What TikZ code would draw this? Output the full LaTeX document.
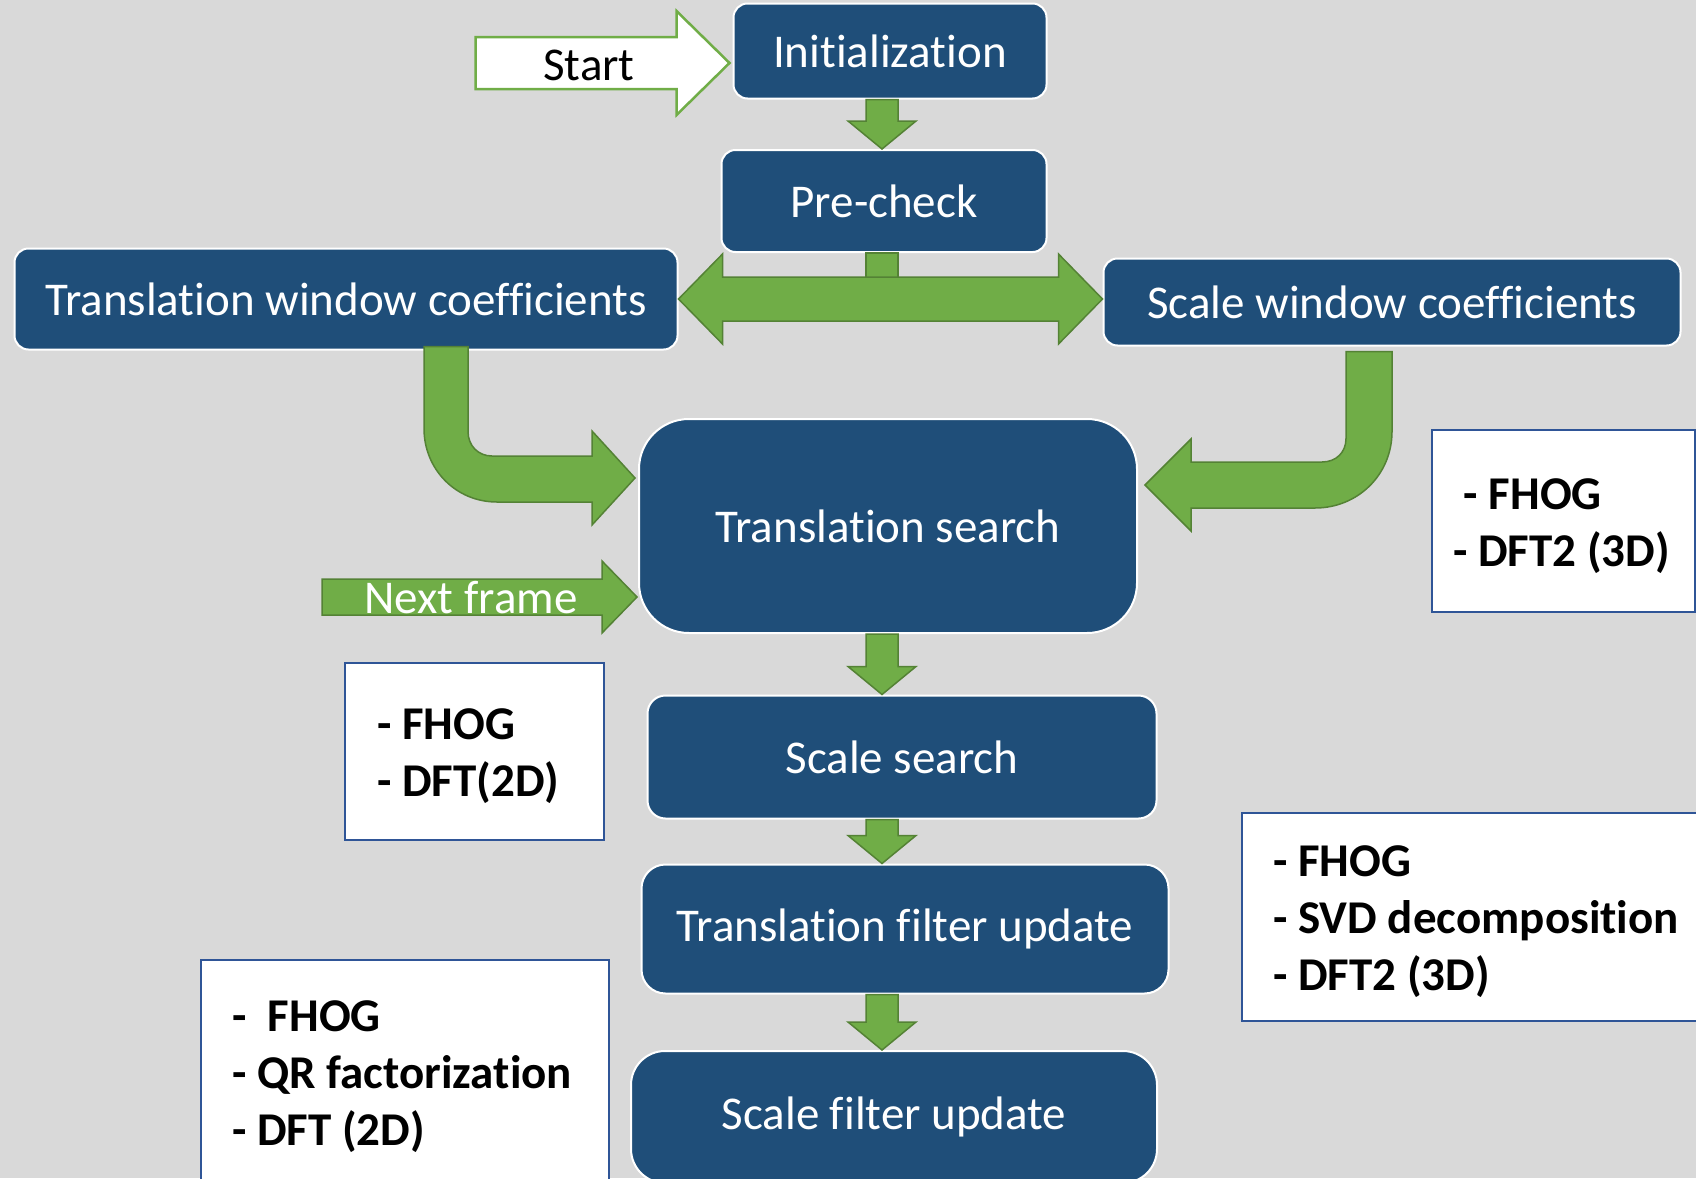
\documentclass[tikz,border=0pt]{standalone}
\usepackage{fontspec}
\setmainfont{Carlito}[Ligatures=NoCommon]
\usetikzlibrary{positioning,calc}
\definecolor{backdrop}{RGB}{217,217,217}
\definecolor{stagefill}{RGB}{31,78,121}
\definecolor{leaf}{RGB}{112,173,71}
\definecolor{leafdark}{RGB}{84,130,53}
\definecolor{noteline}{RGB}{47,85,151}
\newcommand{\bigtext}{\fontsize{47}{57}\selectfont}

\tikzset{
  stage/.style={draw=white, line width=2pt, fill=stagefill, text=white, rounded corners=14pt, inner sep=0pt, font=\bigtext},
  notebox/.style={draw=noteline, line width=2pt, fill=white, anchor=north west, inner sep=0pt},
  notetext/.style={align=left, inner sep=0pt, yshift=-5pt, font=\bigtext\bfseries},
  blk/.style={fill=leaf, draw=leafdark, line width=1.5pt},
}

% block arrow straight down between two stages
\newcommand{\dnarrow}[2]{%
  \draw[blk] ($(spine |- #1.south)+(-16,0)$) -- ($(spine |- #2.north)+(-16,-28)$)
    -- ($(spine |- #2.north)+(-34,-28)$) -- (spine |- #2.north)
    -- ($(spine |- #2.north)+(34,-28)$) -- ($(spine |- #2.north)+(16,-28)$)
    -- ($(spine |- #1.south)+(16,0)$) -- cycle;}

\begin{document}
\begin{tikzpicture}[x=1pt,y=-1pt]
\fill[backdrop] (0,0) rectangle (1696,1178);
\useasboundingbox (0,0) rectangle (1696,1178);
\clip (0,0) rectangle (1696,1178);

% stages
\node[stage, minimum width=313pt, minimum height=95pt] (init) at (890,51) {Initialization};
\node[stage, minimum width=325pt, minimum height=102pt] (pre) at (884,201) {Pre-check};
\node[stage, minimum width=663pt, minimum height=101pt] (twc) at (346,299) {Translation window coefficients};
\node[stage, minimum width=577pt, minimum height=87pt] (swc) at (1392,302) {Scale window coefficients};
\node[stage, minimum width=498pt, minimum height=214pt, rounded corners=50pt] (ts) at (888,526) {Translation search};
\node[stage, minimum width=509pt, minimum height=123pt, rounded corners=18pt] (ss) at (902,757) {Scale search};
\node[stage, minimum width=527pt, minimum height=129pt, rounded corners=24pt] (tfu) at (905,929) {Translation filter update};
\node[stage, minimum width=526pt, minimum height=132pt, rounded corners=34pt] (sfu) at (894,1117) {Scale filter update};

% notes
\node[notebox, minimum width=263pt, minimum height=182pt] (noteA) at (1431,429) {};
\node[notetext, right=22pt of noteA.west] (textA) {~- FHOG\\- DFT2 (3D)};
\node[notebox, minimum width=259pt, minimum height=177pt] (noteB) at (344,662) {};
\node[notetext, right=33pt of noteB.west] (textB) {- FHOG\\- DFT(2D)};
\node[notebox, minimum width=480pt, minimum height=208pt] (noteC) at (1241,812) {};
\node[notetext, right=32pt of noteC.west] (textC) {- FHOG\\- SVD decomposition\\- DFT2 (3D)};
\node[notebox, minimum width=408pt, minimum height=224pt] (noteD) at (200,959) {};
\node[notetext, right=32pt of noteD.west] (textD) {-~ FHOG\\- QR factorization\\- DFT (2D)};

% start arrow
\coordinate (sttip) at ($(init.west)+(-3,12)$);
\coordinate (sttail) at ($(sttip)+(-254,0)$);
\draw[fill=white, draw=leaf, line width=2.5pt] ($(sttail)+(0,-26)$) -- ($(sttip)+(-53,-26)$) -- ($(sttip)+(-53,-52)$)
  -- (sttip) -- ($(sttip)+(-53,52)$) -- ($(sttip)+(-53,26)$) -- ($(sttail)+(0,26)$) -- cycle;
\node[font=\bigtext] (startlbl) at (589,65) {Start};

% down arrows
\coordinate (spine) at (882,0);
\dnarrow{init}{pre}
\dnarrow{ts}{ss}
\dnarrow{ss}{tfu}
\dnarrow{tfu}{sfu}

% pre-check to both coefficient boxes
\draw[blk] ($(spine |- pre.south)+(-16,0)$) rectangle ($(spine |- twc.east)+(16,-20)$);
\coordinate (dl) at (twc.east);
\coordinate (dr) at (swc.west |- twc.east);
\draw[blk] (dl) -- ($(dl)+(44,-45)$) -- ($(dl)+(44,-22)$) -- ($(dr)+(-44,-22)$) -- ($(dr)+(-44,-45)$)
  -- (dr) -- ($(dr)+(-44,45)$) -- ($(dr)+(-44,22)$) -- ($(dl)+(44,22)$) -- ($(dl)+(44,45)$) -- cycle;

% bent arrows into translation search
\coordinate (ta) at ($(twc.south)+(100,-4)$);
\coordinate (tb) at ($(ts.west)+(-3,-48)$);
\draw[blk] ($(ta)+(-22,0)$) -- ($(ta)+(-22,82)$) .. controls ($(ta)+(-22,123)$) and ($(tb)+(-179,24)$) .. ($(tb)+(-138,24)$)
  -- ($(tb)+(-43,24)$) -- ($(tb)+(-43,47)$) -- (tb) -- ($(tb)+(-43,-47)$) -- ($(tb)+(-43,-22)$)
  -- ($(tb)+(-143,-22)$) .. controls ($(tb)+(-157,-22)$) and ($(ta)+(22,99)$) .. ($(ta)+(22,85)$) -- ($(ta)+(22,0)$) -- cycle;
\coordinate (sa) at ($(swc.south)+(-23,5)$);
\coordinate (sb) at ($(ts.east)+(7,-41)$);
\draw[blk] ($(sa)+(23,0)$) -- ($(sa)+(23,80)$) .. controls ($(sa)+(23,123)$) and ($(sb)+(213,23)$) .. ($(sb)+(170,23)$)
  -- ($(sb)+(46,23)$) -- ($(sb)+(46,46)$) -- (sb) -- ($(sb)+(46,-46)$) -- ($(sb)+(46,-23)$)
  -- ($(sb)+(177,-23)$) .. controls ($(sb)+(191,-23)$) and ($(sa)+(-23,101)$) .. ($(sa)+(-23,87)$) -- ($(sa)+(-23,0)$) -- cycle;

% next frame
\coordinate (nftip) at ($(ts.west)+(-1,71)$);
\coordinate (nftail) at ($(nftip)+(-315,0)$);
\draw[blk] ($(nftail)+(0,-18)$) -- ($(nftip)+(-35,-18)$) -- ($(nftip)+(-35,-36)$) -- (nftip)
  -- ($(nftip)+(-35,36)$) -- ($(nftip)+(-35,18)$) -- ($(nftail)+(0,18)$) -- cycle;
\node[font=\bigtext, text=white] (nflbl) at ($(nftail)+(149,1)$) {Next frame};
\end{tikzpicture}
\end{document}
